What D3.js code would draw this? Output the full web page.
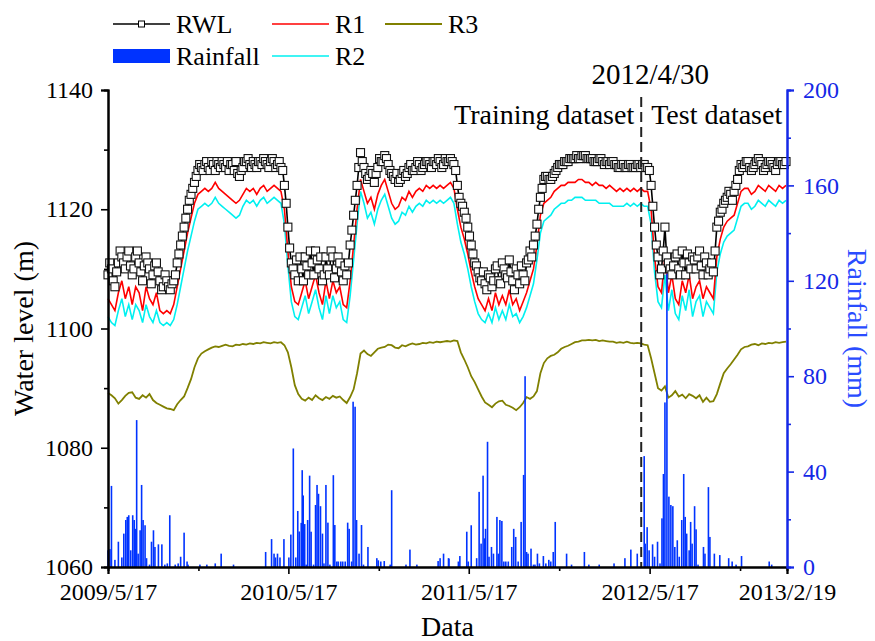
<!DOCTYPE html>
<html>
<head>
<meta charset="utf-8">
<script src="https://cdn.jsdelivr.net/npm/d3@7"></script>
<style>
  body { margin: 0; background: #fff; }
  text { font-family: "Liberation Serif", "Times New Roman", serif; }
</style>
</head>
<body>
<div id="chart"></div>
<script>
// weekly readings starting 2009/5/17
var startDate = new Date(2009, 4, 17),
    endDate = new Date(2013, 1, 19),
    splitDate = new Date(2012, 3, 30);

var rwl = [
    1109, 1110, 1107, 1111, 1112, 1110, 1113, 1109, 1112, 1111, 1108, 1112, 1110, 1109, 1111, 1108, 1107, 1108, 1106.5, 1108,
    1111, 1114, 1117, 1120, 1122.5, 1124.5, 1126.5, 1127,
    1127.5, 1127, 1128, 1126.5, 1127.5, 1128, 1127, 1126.5, 1127.5, 1128, 1125.5, 1127, 1128, 1127.5, 1128, 1127, 1128, 1128.5, 1127.5, 1128, 1128, 1127.5, 1127,
    1124, 1117, 1111, 1109,
    1108, 1110, 1112, 1109, 1111, 1113, 1110, 1108, 1112, 1109, 1112, 1110, 1111, 1108, 1109,
    1114, 1119, 1124, 1129.5, 1127, 1125, 1126.5, 1124.5, 1127, 1128, 1129, 1127.5, 1126, 1125, 1124.5, 1126, 1125.5, 1127, 1126.5, 1127, 1127.5, 1127, 1128, 1127.5, 1128, 1127.5, 1128, 1127.5, 1128, 1128.5, 1127.5,
    1124, 1121, 1119.5, 1117, 1114, 1111, 1109.5, 1108, 1107.5, 1109,
    1107, 1110, 1108, 1111, 1109, 1111.5, 1108, 1110, 1107.5, 1109, 1111, 1113,
    1114, 1117.5, 1122, 1125, 1125.5, 1125, 1126, 1127, 1127.5,
    1128, 1128, 1128.5, 1128.5, 1128.5, 1129, 1129, 1128.5, 1128.5, 1128, 1128.5, 1128, 1128, 1127.5, 1128, 1127.5, 1127, 1127.5, 1127, 1127.5, 1127, 1127.5, 1127, 1127.5, 1127,
    1124, 1117, 1112,
    1110, 1117, 1111, 1109, 1112, 1110, 1113, 1109, 1111, 1112, 1110, 1113, 1109, 1111, 1110, 1109.5,
    1117, 1119.5, 1121, 1122, 1122.5, 1123, 1125, 1127.5, 1127.5,
    1128, 1126.5, 1127.5, 1128.5, 1127.5, 1127, 1128, 1127.5, 1126.5, 1128, 1127.5, 1128
];

// RWL readings taken half a week after each weekly reading
var rwlMid = [
    1111, 1108, 1109.5, 1113, 1111, 1112, 1110.5, 1110, 1113, 1109.5, 1110.5, 1111, 1107.5, 1110.5, 1109.5, 1106.5, 1109, 1107, 1107.5,
    1109,
    1112.5, 1115.5, 1118.5, 1121.5, 1123.5, 1125.5, 1127.5,
    1126.5,
    1128, 1126.5, 1127.5, 1128, 1127, 1127.5, 1128, 1127.5, 1126.5, 1126, 1126.5, 1128, 1128.5, 1127, 1127.5, 1128, 1127.5, 1128, 1127, 1128.5, 1127, 1128,
    1126.5,
    1121, 1113.5, 1110,
    1111.5,
    1112, 1108, 1110.5, 1113, 1109, 1111.5, 1112, 1109, 1110, 1113, 1108.5, 1112, 1109.5, 1110.5,
    1111,
    1116.5, 1121.5, 1127,
    1128, 1126, 1125.5, 1126, 1126, 1128.5, 1128, 1128.5, 1126.5, 1125.5, 1126, 1125, 1126.5, 1126, 1127.5, 1126.5, 1128, 1126.5, 1127.5, 1128, 1127, 1128, 1128.5, 1127, 1128.5, 1128, 1128,
    1126.5,
    1122, 1120.5, 1118.5, 1115.5, 1112.5, 1110.5, 1108.5, 1109.5, 1106.5,
    1108.5, 1108, 1110.5, 1107.5, 1110, 1108.5, 1109.5, 1106.5, 1109, 1110.5, 1108, 1111.5,
    1112,
    1115.5, 1120, 1123.5, 1125.5, 1125, 1125.5, 1126.5, 1127.5,
    1127.5,
    1128, 1128.5, 1128.5, 1129, 1128.5, 1129, 1128.5, 1128.5, 1128, 1128, 1128.5, 1127.5, 1128, 1128, 1127.5, 1127, 1127.5, 1127, 1127.5, 1127, 1127, 1127.5, 1127.5, 1127,
    1126.5,
    1120.5, 1114,
    1109,
    1113, 1112, 1110, 1110.5, 1112.5, 1109, 1111, 1112.5, 1110, 1111.5, 1112, 1110.5, 1112, 1109, 1111,
    1113,
    1118, 1120, 1121.5, 1123, 1121.5, 1124, 1126.5, 1127,
    1128, 1127, 1127, 1128, 1128, 1126.5, 1127.5, 1128, 1127, 1127.5, 1128, 1127.5
];

var r1 = [
    1105, 1104, 1103, 1106, 1108, 1105, 1107, 1104, 1107, 1106, 1103, 1107, 1105, 1104, 1106, 1103, 1102.5, 1103, 1102.5, 1104,
    1107, 1110, 1113, 1116, 1118.5, 1121, 1122.5, 1123,
    1123.5, 1123, 1123.5, 1124.5, 1123.5, 1123, 1122.5, 1122, 1121.5, 1121, 1121.5, 1122.5, 1123.5, 1123, 1123.5, 1122.5, 1123.5, 1124, 1123, 1123.5, 1124, 1123.5, 1123,
    1120, 1113, 1107, 1104.5,
    1104, 1106, 1108, 1105, 1107, 1109, 1106, 1104, 1108, 1105, 1108, 1106, 1107, 1104, 1103.5,
    1108, 1114, 1120, 1125, 1123, 1121, 1122, 1120, 1122.5, 1124, 1125, 1123, 1121, 1120, 1120.5, 1122, 1121.5, 1123, 1122, 1123, 1123.5, 1123, 1124, 1123.5, 1124, 1123.5, 1124, 1123.5, 1124, 1124.5, 1123.5,
    1120, 1117, 1115, 1112.5, 1109.5, 1107, 1105, 1104, 1103, 1105,
    1103, 1106, 1104, 1105.5, 1104, 1106.5, 1104, 1105, 1103, 1104.5, 1106, 1108,
    1110, 1114, 1119, 1121, 1121.5, 1122, 1123, 1123.5, 1124,
    1124, 1124.5, 1124.5, 1124.5, 1125, 1125, 1124.5, 1124.5, 1124, 1124.5, 1124, 1124, 1123.5, 1124, 1123.5, 1123, 1123.5, 1123, 1123.5, 1123, 1123.5, 1123, 1123.5, 1123, 1123,
    1120, 1112, 1107,
    1106, 1112, 1106, 1109, 1105, 1104, 1108, 1106, 1109, 1105, 1107, 1108, 1105, 1107, 1106, 1105,
    1112, 1115, 1117, 1118, 1118.5, 1119, 1121, 1123, 1123.5,
    1123.5, 1122.5, 1123, 1124, 1123.5, 1123, 1124, 1123.5, 1123, 1124, 1123.5, 1124
];

var r2 = [
    1102, 1101, 1100.5, 1103, 1105, 1102, 1104, 1101.5, 1104, 1103, 1101, 1104, 1102, 1101, 1103, 1101, 1100.5, 1101, 1100.5, 1101.5,
    1104, 1107, 1110, 1113, 1115.5, 1118, 1120, 1120.5,
    1121, 1120.5, 1121, 1122, 1121, 1120.5, 1120, 1119.5, 1119, 1118.5, 1119, 1120.5, 1121.5, 1121, 1121.5, 1120.5, 1121.5, 1122, 1121, 1121.5, 1122, 1121.5, 1121,
    1117.5, 1110.5, 1104.5, 1102,
    1101.5, 1103.5, 1105.5, 1102.5, 1104.5, 1106.5, 1103.5, 1101.5, 1105.5, 1102.5, 1105.5, 1103.5, 1104.5, 1101.5, 1101,
    1105.5, 1111.5, 1117.5, 1123, 1121, 1118.5, 1119.5, 1117.5, 1120, 1121.5, 1122.5, 1120.5, 1118.5, 1117.5, 1118, 1119.5, 1119, 1120.5, 1119.5, 1120.5, 1121, 1120.5, 1121.5, 1121, 1121.5, 1121, 1121.5, 1121, 1121.5, 1122, 1121,
    1117.5, 1114.5, 1112.5, 1110, 1107, 1104.5, 1102.5, 1101.5, 1101, 1102.5,
    1101, 1103.5, 1101.5, 1103, 1101.5, 1104, 1102, 1102.5, 1101, 1102, 1103.5, 1105.5,
    1107.5, 1111.5, 1116, 1118, 1118.5, 1119, 1120, 1120.5, 1121,
    1121, 1121.5, 1121.5, 1122, 1122, 1122, 1121.5, 1121.5, 1121.5, 1121.5, 1121, 1121, 1121, 1121, 1120.5, 1120.5, 1120.5, 1120.5, 1121, 1120.5, 1121, 1120.5, 1121, 1120.5, 1120.5,
    1117.5, 1109.5, 1104.5,
    1103.5, 1109, 1103, 1106.5, 1102.5, 1101.5, 1105.5, 1103, 1106.5, 1102, 1104.5, 1105.5, 1102, 1104.5, 1103.5, 1102.5,
    1109.5, 1112.5, 1114.5, 1115.5, 1116, 1116.5, 1118.5, 1120.5, 1121,
    1121, 1120, 1120.5, 1121.5, 1121, 1120.5, 1121.5, 1121, 1120.5, 1121.5, 1121, 1121.5
];

var r3 = [
    1089.2, 1088.8, 1088.3, 1087.4, 1088, 1088.7, 1089.2, 1089.3, 1088.4, 1088.2, 1088.8, 1088.4, 1089, 1088, 1087.5, 1087.2, 1086.9, 1086.6, 1086.5, 1086.3,
    1087.3, 1088, 1088.6, 1090, 1091.5, 1093.5, 1095, 1095.8, 1096.2, 1096.5, 1096.8, 1097, 1096.9, 1097.1, 1097.3, 1097.1, 1097, 1097.3, 1097.2, 1097.4, 1097.3, 1097.5, 1097.4, 1097.6, 1097.5, 1097.7, 1097.6, 1097.5, 1097.7, 1097.6, 1097.7,
    1097.2, 1096, 1093.5, 1090.5, 1089, 1088.2, 1087.9, 1088.4, 1088, 1088.8, 1088.3, 1088, 1088.5, 1088.2, 1088.7, 1088.4, 1088.6, 1088, 1087.5,
    1088.5, 1089.8, 1092.5, 1095.8, 1096.3, 1095.7, 1095.4, 1096, 1096.6, 1096.8, 1096.9, 1097.3, 1097.2, 1096.8, 1096.7, 1097.2, 1097, 1097.3, 1097.5, 1097.3, 1097.4, 1097.6, 1097.5, 1097.7, 1097.6, 1097.8, 1097.7, 1097.8, 1097.9, 1097.8, 1098,
    1097.9, 1096, 1094.8, 1093.5, 1092, 1091, 1089.8, 1088.6, 1087.6, 1087.2, 1086.8, 1087.4, 1087.8, 1087.9, 1087.2, 1087, 1086.7, 1086.3, 1086.8, 1087.5, 1088.5, 1088.2, 1088.6, 1089.5, 1092.5, 1094.2, 1095, 1095.4, 1095.6, 1096, 1096.6,
    1096.9, 1097.1, 1097.4, 1097.7, 1097.8, 1098, 1098, 1098.1, 1098, 1098.1, 1097.9, 1098, 1097.9, 1097.8, 1097.8, 1097.6, 1097.7, 1097.6, 1097.8, 1097.6, 1097.5, 1097.6, 1097.5, 1097.3, 1097.2,
    1095, 1092.5, 1090, 1089.6, 1090.3, 1088.4, 1088.8, 1089.5, 1088.6, 1088.9, 1088.3, 1089, 1088.7, 1088.3, 1088.8, 1087.7, 1088.4, 1087.7, 1087.8, 1089,
    1090.8, 1092.5, 1093.3, 1094, 1094.8, 1095.6, 1096.5, 1096.9, 1097, 1097.3, 1097.4, 1097.2, 1097.5, 1097.4, 1097.6, 1097.5, 1097.7, 1097.6, 1097.7, 1097.8
];

// [days after 2009/5/17, rainfall mm]
var rainfall = [
    [0, 7], [4, 7.5], [7, 34], [14, 3], [21, 10.6], [28, 4], [32, 14], [36, 19.7], [39, 21], [42, 21.7],
    [46, 7], [50, 21.7], [53, 19.7], [55, 16], [58, 61.6], [61, 5.6], [65, 15.4], [68, 34.4], [71, 19.7], [75, 17.5],
    [78, 3.7], [84, 1], [88, 10.6], [92, 15.4], [95, 8.4], [102, 9.5], [109, 9.5], [115, 1], [120, 1.5], [125, 21.7],
    [136, 1], [142, 1.5], [147, 4.3], [154, 14.4], [160, 2.3], [162, 1], [186, 1], [200, 1], [217, 1.5], [229, 5.6],
    [254, 1], [319, 6.3], [331, 11.7], [336, 5.6], [339, 4], [343, 5.6], [348, 4], [356, 11.7], [366, 4], [370, 13.6],
    [375, 49.7], [380, 4], [384, 23.5], [387, 14.9], [391, 18.5], [393, 40.6], [395, 30], [398, 18], [401, 1], [404, 19.7],
    [408, 38.3], [411, 14.8], [416, 1], [420, 26], [423, 34.4], [426, 30.7], [430, 25.5], [434, 14], [437, 1.5], [441, 34.4],
    [445, 18.6], [449, 1], [456, 38.5], [459, 17.6], [463, 2.3], [466, 2.3], [471, 2.3], [475, 2.3], [480, 2.3], [485, 18.6],
    [488, 16], [493, 2.3], [496, 69.3], [500, 67.2], [503, 19.7], [508, 5.6], [513, 17.6], [517, 1], [526, 8.4], [544, 3.7],
    [547, 2.8], [552, 2.3], [559, 2.5], [571, 1], [574, 32.2], [603, 1], [611, 7.3], [625, 1], [668, 2.5], [672, 3.7],
    [679, 5.6], [689, 3.7], [690, 3.5], [709, 2.3], [712, 4.6], [726, 14.8], [729, 2.3], [735, 17.5], [746, 3.7], [751, 31.5],
    [755, 9.8], [759, 38.3], [762, 12], [764, 16], [768, 52.5], [771, 4.3], [776, 8.4], [780, 5.6], [787, 21], [790, 5.6],
    [793, 19.7], [797, 19.3], [801, 2.3], [805, 2.3], [810, 2.3], [817, 8.4], [821, 16], [825, 12.6], [830, 2.3], [836, 18.9],
    [841, 38.6], [844, 80], [847, 6.3], [850, 5.6], [856, 7.7], [861, 1], [864, 1], [869, 5.6], [873, 1.5], [881, 4.6],
    [886, 1.5], [892, 3], [896, 2.3], [901, 6.3], [905, 18.9], [928, 5.6], [938, 1], [964, 6.3], [973, 1], [994, 1],
    [1024, 1.5], [1046, 3.7], [1058, 7.3], [1071, 5.6], [1085, 46.5], [1087, 9.8], [1091, 16.7], [1095, 7], [1102, 9.5], [1106, 4.3],
    [1112, 10.6], [1117, 1.5], [1121, 20.4], [1124, 39], [1127, 69], [1131, 123], [1135, 29.5], [1139, 26], [1143, 25.5], [1147, 8.4],
    [1152, 11.2], [1156, 4.3], [1161, 19.7], [1165, 39], [1168, 21], [1171, 14], [1176, 7], [1179, 18.9], [1182, 9.8], [1187, 25.5],
    [1190, 15.8], [1194, 1], [1205, 8.4], [1208, 5.6], [1215, 33.5], [1218, 12.6], [1227, 5.6], [1238, 5], [1256, 3.7], [1263, 2.3],
    [1271, 1], [1282, 4.6], [1338, 2.3], [1343, 1]
];

var dateTicks = [new Date(2009, 4, 17), new Date(2010, 4, 17), new Date(2011, 4, 17), new Date(2012, 4, 17), new Date(2013, 1, 19)],
    dateMinor = [new Date(2009, 10, 16), new Date(2010, 10, 16), new Date(2011, 10, 16), new Date(2012, 10, 16)],
    levelTicks = [1060, 1080, 1100, 1120, 1140],
    levelMinor = [1070, 1090, 1110, 1130],
    rainTicks = [0, 40, 80, 120, 160, 200],
    rainMinor = [20, 60, 100, 140, 180];

var width = 875, height = 641;
var margin = {top: 90, right: 88, bottom: 74, left: 108};
var blue = "#1428e6";

var svg = d3.select("#chart").append("svg")
    .attr("width", width)
    .attr("height", height);

svg.append("rect").attr("width", width).attr("height", height).style("fill", "#fff");

var x = d3.scaleTime()
    .domain([startDate, endDate])
    .range([margin.left, width - margin.right]);

var y = d3.scaleLinear()
    .domain([1060, 1140])
    .range([height - margin.bottom, margin.top]);

var yRain = d3.scaleLinear()
    .domain([0, 200])
    .range([height - margin.bottom, margin.top]);

function toSeries(values) {
    return values.map(function (v, i) {
        return {date: d3.timeDay.offset(startDate, i * 7), value: v};
    });
}

// weekly + mid-week readings, in date order
var rwlData = [];
rwl.forEach(function (v, i) {
    var d = d3.timeDay.offset(startDate, i * 7);
    rwlData.push({date: d, value: v});
    if (i < rwlMid.length) {
        rwlData.push({date: d3.timeHour.offset(d, 84), value: rwlMid[i]});
    }
});

var line = d3.line()
    .x(function (d) { return x(d.date); })
    .y(function (d) { return y(d.value); });

var plot = svg.append("g");

plot.append("path").datum(toSeries(r3))
    .attr("d", line)
    .style("fill", "none").style("stroke", "#808000").style("stroke-width", 1.8);

plot.append("path").datum(toSeries(r2))
    .attr("d", line)
    .style("fill", "none").style("stroke", "#00f0f0").style("stroke-width", 1.6);

plot.append("path").datum(toSeries(r1))
    .attr("d", line)
    .style("fill", "none").style("stroke", "#ff0000").style("stroke-width", 1.6);

plot.append("path").datum(rwlData)
    .attr("d", line)
    .style("fill", "none").style("stroke", "#000").style("stroke-width", 1.6);

plot.selectAll(".rwl-pt")
    .data(rwlData)
    .enter().append("rect")
    .attr("class", "rwl-pt")
    .attr("x", function (d) { return x(d.date) - 4; })
    .attr("y", function (d) { return y(d.value) - 4; })
    .attr("width", 8)
    .attr("height", 8)
    .style("fill", "#fff")
    .style("stroke", "#111")
    .style("stroke-width", 1.1);

// rainfall bars
plot.selectAll(".rain")
    .data(rainfall)
    .enter().append("rect")
    .attr("class", "rain")
    .attr("x", function (d) { return x(d3.timeDay.offset(startDate, d[0])) - 0.8; })
    .attr("y", function (d) { return yRain(d[1]); })
    .attr("width", 1.6)
    .attr("height", function (d) { return yRain(0) - yRain(d[1]); })
    .style("fill", "#0033ff");

// split line
var xs = x(splitDate);
svg.append("line")
    .attr("x1", xs).attr("x2", xs)
    .attr("y1", 97).attr("y2", yRain(0))
    .style("stroke", "#222")
    .style("stroke-width", 2)
    .style("stroke-dasharray", "10,5");

svg.append("text")
    .attr("x", xs + 9).attr("y", 84)
    .attr("text-anchor", "middle")
    .style("font-size", "29px")
    .text("2012/4/30");

svg.append("text")
    .attr("x", xs - 7).attr("y", 124)
    .attr("text-anchor", "end")
    .style("font-size", "28px")
    .text("Training dataset");

svg.append("text")
    .attr("x", xs + 10).attr("y", 124)
    .style("font-size", "28px")
    .text("Test dataset");

// axes
function styleAxis(g, color, fontSize) {
    g.select(".domain").style("stroke", color).style("stroke-width", 2);
    g.selectAll(".tick line").style("stroke", color).style("stroke-width", 1.6);
    g.selectAll(".tick text")
        .style("fill", color)
        .style("font-size", fontSize)
        .style("font-family", "Liberation Serif, Times New Roman, serif");
}

var bottom = svg.append("g")
    .attr("transform", "translate(0," + (height - margin.bottom) + ")");
bottom.append("g")
    .call(d3.axisBottom(x).tickValues(dateMinor).tickSize(4).tickFormat(""))
    .call(styleAxis, "#000", "24px");
bottom.append("g")
    .call(d3.axisBottom(x).tickValues(dateTicks).tickSize(7).tickPadding(9)
        .tickFormat(d3.timeFormat("%Y/%-m/%-d")))
    .call(styleAxis, "#000", "24px");

var left = svg.append("g")
    .attr("transform", "translate(" + margin.left + ",0)");
left.append("g")
    .call(d3.axisLeft(y).tickValues(levelMinor).tickSize(4).tickFormat(""))
    .call(styleAxis, "#000", "24px");
left.append("g")
    .call(d3.axisLeft(y).tickValues(levelTicks).tickSize(7).tickPadding(8).tickFormat(d3.format("d")))
    .call(styleAxis, "#000", "24px");

var right = svg.append("g")
    .attr("transform", "translate(" + (width - margin.right) + ",0)");
right.append("g")
    .call(d3.axisRight(yRain).tickValues(rainMinor).tickSize(4).tickFormat(""))
    .call(styleAxis, blue, "24px");
right.append("g")
    .call(d3.axisRight(yRain).tickValues(rainTicks).tickSize(7).tickPadding(9).tickFormat(d3.format("d")))
    .call(styleAxis, blue, "24px");

// axis titles
svg.append("text")
    .attr("x", (margin.left + width - margin.right) / 2)
    .attr("y", 636)
    .attr("text-anchor", "middle")
    .style("font-size", "28px")
    .text("Data");

svg.append("text")
    .attr("transform", "translate(33," + ((margin.top + height - margin.bottom) / 2) + ") rotate(-90)")
    .attr("text-anchor", "middle")
    .style("font-size", "28px")
    .text("Water level (m)");

svg.append("text")
    .attr("transform", "translate(848," + ((margin.top + height - margin.bottom) / 2) + ") rotate(90)")
    .attr("text-anchor", "middle")
    .style("font-size", "28px")
    .style("fill", "#2a4cff")
    .text("Rainfall (mm)");

// legend
var legend = svg.append("g").attr("class", "legend");
var items = [
    {name: "RWL", color: "#000", col: 0, row: 0, kind: "marker"},
    {name: "R1", color: "#ff0000", col: 1, row: 0, kind: "line"},
    {name: "R3", color: "#808000", col: 2, row: 0, kind: "line"},
    {name: "Rainfall", color: "#0033ff", col: 0, row: 1, kind: "bar"},
    {name: "R2", color: "#00f0f0", col: 1, row: 1, kind: "line"}
];
var colX = [113, 272, 385];

items.forEach(function (it) {
    var lx = colX[it.col], ly = 24 + it.row * 32;
    var g = legend.append("g").attr("transform", "translate(" + lx + "," + ly + ")");
    if (it.kind === "bar") {
        g.append("rect").attr("x", 0).attr("y", -7).attr("width", 57).attr("height", 14)
            .style("fill", it.color);
    } else {
        g.append("line").attr("x1", 0).attr("x2", 57).attr("y1", 0).attr("y2", 0)
            .style("stroke", it.color).style("stroke-width", it.name === "R3" ? 1.8 : 1.6);
        if (it.kind === "marker") {
            g.append("rect").attr("x", 25.5).attr("y", -3).attr("width", 6).attr("height", 6)
                .style("fill", "#fff").style("stroke", "#000").style("stroke-width", 1);
        }
    }
    g.append("text")
        .attr("x", 63).attr("y", 9)
        .style("font-size", "26px")
        .text(it.name);
});
</script>
</body>
</html>
